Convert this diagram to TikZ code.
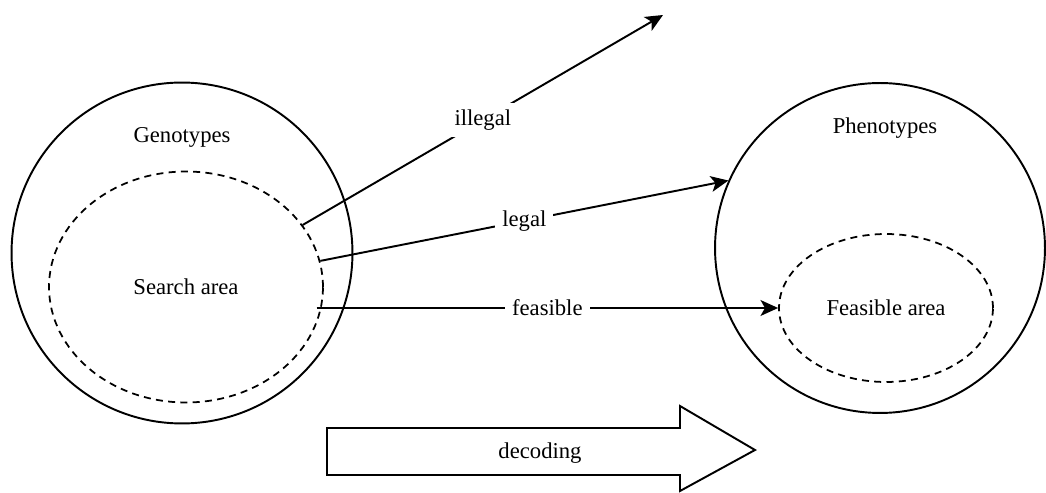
\documentclass[tikz,border=0pt]{standalone}
\usepackage{fontspec}
\setmainfont{Liberation Serif}
\usetikzlibrary{shapes, arrows.meta, positioning}

\begin{document}
\begin{tikzpicture}[x=0.02cm, y=-0.02cm, line width=1.1pt, font=\fontsize{12.9}{15}\selectfont]
        % Define block styles
        \tikzstyle{space} = [circle, draw, inner sep=0pt]
        \tikzstyle{area} = [ellipse, draw, dash pattern=on 4pt off 3pt, line width=1pt, inner sep=0pt]
        \tikzstyle{line} = [draw, -{Stealth[length=10pt, width=9pt, inset=2.5pt]}]
        \tikzstyle{tag} = [fill=white, inner sep=4pt]

        \useasboundingbox (0,0) rectangle (1046,493);

        % Define nodes
        \node [space, minimum size=6.82cm] (geno) at (182,253) {};
        \node [space, minimum size=6.6cm] (pheno) at (880,248) {};
        \node [area, minimum width=5.48cm, minimum height=4.62cm] (search) at (186,287) {Search area};
        \node [area, minimum width=4.28cm, minimum height=2.96cm] (feas) at (886,308) {Feasible area};
        \node (genolabel) at (182,137) {Genotypes};
        \node (phenolabel) at (885,128) {Phenotypes};
        \coordinate (out) at (663,15);

        % Connect nodes with paths
        \path [line] (search.28) -- node [tag] {illegal} (out);
        \path [line] (search.11) -- node [tag] {legal} (pheno.156);
        \path [line] (search.-16 |- feas.west) -- node [tag] {feasible} (feas.west);

        % Decoding arrow
        \node (dec) at (540,453) {decoding};
        \draw (327,428) -- (680,428) -- (680,406) -- (755,450) -- (680,491) -- (680,475) -- (327,475) -- cycle;
\end{tikzpicture}
\end{document}
